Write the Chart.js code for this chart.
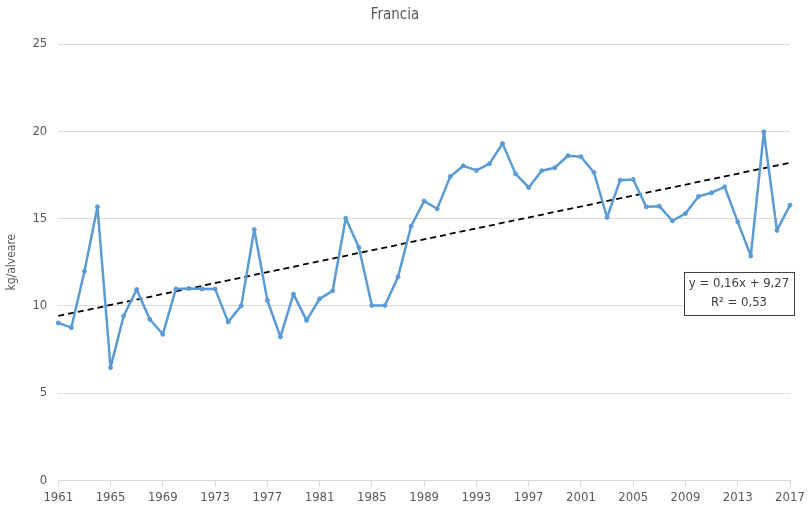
<!DOCTYPE html>
<html>
<head>
<meta charset="utf-8">
<script src="https://cdn.jsdelivr.net/npm/chart.js@4.4.1/dist/chart.umd.min.js"></script>
<style>
  html, body { margin: 0; padding: 0; background: #fff; }
  #wrap { width: 811px; height: 512px; }
</style>
</head>
<body>
<div id="wrap"><canvas id="chart" width="811" height="512"></canvas></div>
<script>
// anni
const years = [];
for (let y = 1961; y <= 2017; y++) years.push(y);

// resa media, kg per alveare
const yieldKg = [
  9.02, 8.75, 11.97, 15.67, 6.46, 9.42, 10.93, 9.23, 8.37, 10.97,
  11.0, 10.97, 10.97, 9.08, 10.0, 14.37, 10.32, 8.22, 10.67, 9.17,
  10.4, 10.86, 15.02, 13.36, 10.02, 10.02, 11.66, 14.56, 16.0, 15.56,
  17.41, 18.02, 17.76, 18.14, 19.3, 17.56, 16.78, 17.74, 17.91, 18.6,
  18.54, 17.64, 15.06, 17.2, 17.24, 15.67, 15.71, 14.87, 15.29, 16.27,
  16.48, 16.82, 14.81, 12.86, 19.97, 14.32, 15.77
];

// linea di tendenza: estremi
const trendYears = [1961, 2017];
const trendValues = [9.42, 18.2];

// etichette asse x
const xTicks = [1961, 1965, 1969, 1973, 1977, 1981, 1985, 1989, 1993, 1997, 2001, 2005, 2009, 2013, 2017];
const eqLines = ['y = 0,16x + 9,27', 'R² = 0,53'];

const font = "'DejaVu Sans Condensed', 'Liberation Sans', sans-serif";
const grey = '#595959';

// box con equazione della tendenza
const eqBox = {
  id: 'eqBox',
  afterDatasetsDraw(chart) {
    const ctx = chart.ctx;
    const ys = chart.scales.y;
    const right = chart.chartArea.right + 4;
    const w = 110, h = 43;
    const top = ys.getPixelForValue(11.94);
    const left = right - w;
    ctx.save();
    ctx.fillStyle = '#fff';
    ctx.fillRect(left, top, w, h);
    ctx.strokeStyle = '#404040';
    ctx.lineWidth = 1;
    ctx.strokeRect(left + 0.5, top + 0.5, w, h);
    ctx.fillStyle = '#404040';
    ctx.font = '13px ' + font;
    ctx.textAlign = 'center';
    ctx.textBaseline = 'middle';
    ctx.fillText(eqLines[0], left + w / 2, top + 12);
    ctx.fillText(eqLines[1], left + w / 2, top + 31);
    ctx.restore();
  }
};

new Chart(document.getElementById('chart').getContext('2d'), {
  type: 'line',
  data: {
    datasets: [{
      label: 'Francia',
      data: years.map((y, i) => ({ x: y, y: yieldKg[i] })),
      borderColor: '#5B9BD5',
      backgroundColor: '#5B9BD5',
      borderWidth: 2.5,
      borderJoinStyle: 'round',
      pointRadius: 2,
      pointBorderWidth: 1,
      pointHoverRadius: 2,
      tension: 0,
      clip: false
    }, {
      label: 'Tendenza',
      data: trendYears.map((y, i) => ({ x: y, y: trendValues[i] })),
      borderColor: '#000',
      borderWidth: 1.8,
      borderDash: [6, 4],
      pointRadius: 0,
      clip: false
    }]
  },
  options: {
    responsive: false,
    animation: false,
    events: [],
    layout: { padding: { left: 0, right: 21, top: 4, bottom: 4 } },
    plugins: {
      legend: { display: false },
      tooltip: { enabled: false },
      title: {
        display: true,
        text: 'Francia',
        color: grey,
        font: { family: font, size: 15, weight: 'normal' },
        padding: { top: 2, bottom: 20 }
      }
    },
    scales: {
      x: {
        type: 'linear',
        min: 1961,
        max: 2017,
        afterBuildTicks: s => { s.ticks = xTicks.map(v => ({ value: v })); },
        ticks: {
          color: grey,
          font: { family: font, size: 13 },
          maxRotation: 0,
          autoSkip: false,
          callback: v => String(v)
        },
        grid: { drawOnChartArea: false, drawTicks: true, tickLength: 6, color: '#d9d9d9' },
        border: { color: '#d9d9d9' }
      },
      y: {
        min: 0,
        max: 25,
        ticks: {
          stepSize: 5,
          color: grey,
          font: { family: font, size: 13 },
          padding: 11
        },
        grid: { color: '#d9d9d9', drawTicks: false },
        border: { display: false },
        title: {
          display: true,
          text: 'kg/alveare',
          color: grey,
          font: { family: font, size: 12 },
          padding: { top: 5, bottom: 2 }
        }
      }
    }
  },
  plugins: [eqBox]
});
</script>
</body>
</html>
